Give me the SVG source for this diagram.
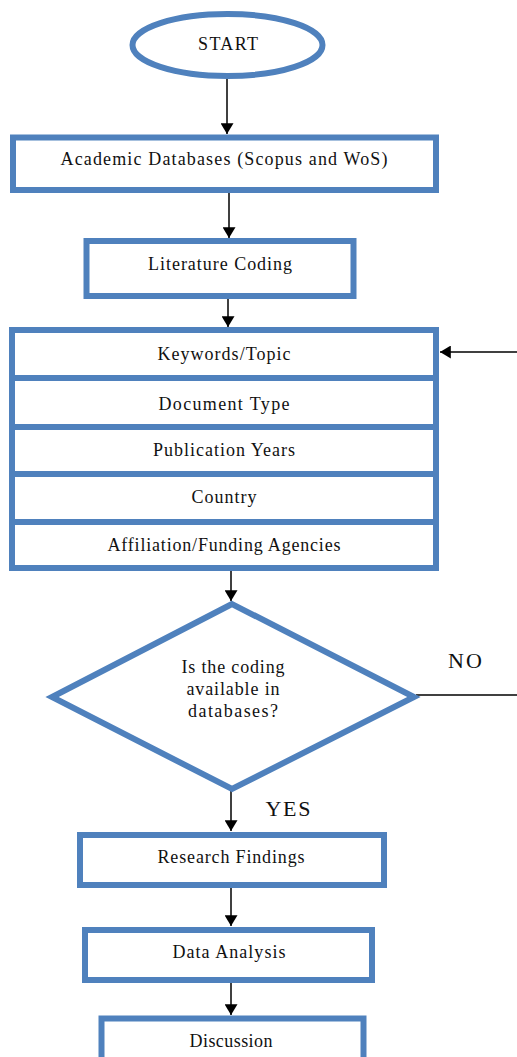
<svg xmlns="http://www.w3.org/2000/svg" width="517" height="1057" viewBox="0 0 517 1057">
<defs>
<style>
.n{fill:#fff;stroke:#4F81BD;stroke-width:6}
.t{font-family:"Liberation Serif","Times New Roman",serif;font-size:18px;fill:#111;text-anchor:middle}
.l{font-family:"Liberation Serif","Times New Roman",serif;font-size:22px;fill:#111;text-anchor:middle}
.c{stroke:#000;stroke-width:1.5;fill:none}
</style>
<marker id="ah" viewBox="0 0 10 12" refX="10" refY="6" markerWidth="11" markerHeight="13" markerUnits="userSpaceOnUse" orient="auto">
<path d="M0,0 L10,6 L0,12 Z" fill="#000"/>
</marker>
</defs>
<rect width="517" height="1057" fill="#fff"/>
<g id="connectors">
<line class="c" x1="227" y1="79" x2="227" y2="134" marker-end="url(#ah)"/>
<line class="c" x1="229" y1="193" x2="229" y2="238" marker-end="url(#ah)"/>
<line class="c" x1="228" y1="299" x2="228" y2="327" marker-end="url(#ah)"/>
<line class="c" x1="517" y1="352" x2="440" y2="352" marker-end="url(#ah)"/>
<line class="c" x1="231" y1="571" x2="231" y2="601" marker-end="url(#ah)"/>
<line class="c" x1="416" y1="695" x2="517" y2="695"/>
<line class="c" x1="231" y1="791" x2="231" y2="831" marker-end="url(#ah)"/>
<line class="c" x1="231" y1="888" x2="231" y2="926" marker-end="url(#ah)"/>
<line class="c" x1="231" y1="983" x2="231" y2="1015" marker-end="url(#ah)"/>
<text class="l" x="465" y="668" textLength="34">NO</text>
<text class="l" x="288" y="816" textLength="45">YES</text>
</g>
<g id="start">
<ellipse class="n" cx="227.5" cy="45" rx="95" ry="31"/>
<text class="t" x="228" y="50" textLength="60">START</text>
</g>
<g id="academic-databases">
<rect class="n" x="13" y="137.5" width="423" height="52.5"/>
<text class="t" x="224" y="165" textLength="327">Academic Databases (Scopus and WoS)</text>
</g>
<g id="literature-coding">
<rect class="n" x="86.5" y="241" width="267" height="55"/>
<text class="t" x="220" y="270" textLength="144">Literature Coding</text>
</g>
<g id="coding-stack">
<rect class="n" x="12" y="330" width="424" height="238"/>
<line class="n" x1="12" y1="378" x2="436" y2="378"/>
<line class="n" x1="12" y1="427" x2="436" y2="427"/>
<line class="n" x1="12" y1="474" x2="436" y2="474"/>
<line class="n" x1="12" y1="522" x2="436" y2="522"/>
<text class="t" x="224" y="360" textLength="133">Keywords/Topic</text>
<text class="t" x="224" y="410" textLength="131">Document Type</text>
<text class="t" x="224" y="456" textLength="142">Publication Years</text>
<text class="t" x="224" y="503" textLength="65">Country</text>
<text class="t" x="224" y="551" textLength="233">Affiliation/Funding Agencies</text>
</g>
<g id="decision">
<polygon class="n" points="232,604 52,697 232,789 414,697"/>
<text class="t" x="233" y="673" textLength="103">Is the coding</text>
<text class="t" x="233" y="695" textLength="93">available in</text>
<text class="t" x="233" y="717" textLength="90">databases?</text>
</g>
<g id="research-findings">
<rect class="n" x="80" y="835" width="304" height="50"/>
<text class="t" x="231" y="863" textLength="147">Research Findings</text>
</g>
<g id="data-analysis">
<rect class="n" x="85" y="930" width="287" height="50"/>
<text class="t" x="229" y="958" textLength="113">Data Analysis</text>
</g>
<g id="discussion">
<rect class="n" x="101.5" y="1018.5" width="262" height="60"/>
<text class="t" x="231" y="1047" textLength="83">Discussion</text>
</g>
</svg>
